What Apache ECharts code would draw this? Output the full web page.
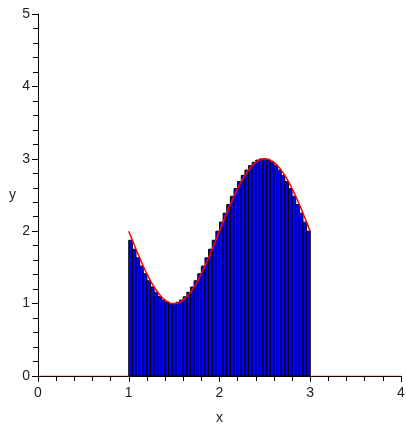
<!DOCTYPE html>
<html>
<head>
<meta charset="utf-8">
<script src="https://cdn.jsdelivr.net/npm/echarts@6/dist/echarts.min.js"></script>
<style>
html, body { margin: 0; padding: 0; background: #fff; }
#main { width: 406px; height: 432px; }
</style>
</head>
<body>
<div id="main"></div>
<script>
// right-endpoint boxes on [1, 3], 50 of them
const boxStart = 1
const boxEnd = 3
const boxHeights = [1.875, 1.751, 1.632, 1.518, 1.412, 1.315, 1.229, 1.156, 1.095, 1.049,
  1.018, 1.002, 1.002, 1.018, 1.049, 1.095, 1.156, 1.229, 1.315, 1.412,
  1.518, 1.632, 1.751, 1.875, 2.000, 2.125, 2.249, 2.368, 2.482, 2.588,
  2.685, 2.771, 2.844, 2.905, 2.951, 2.982, 2.998, 2.998, 2.982, 2.951,
  2.905, 2.844, 2.771, 2.685, 2.588, 2.482, 2.368, 2.249, 2.125, 2.000]
// curve sampled at the box edges
const curveY = [2.000, 1.875, 1.751, 1.632, 1.518, 1.412, 1.315, 1.229, 1.156, 1.095, 1.049,
  1.018, 1.002, 1.002, 1.018, 1.049, 1.095, 1.156, 1.229, 1.315, 1.412,
  1.518, 1.632, 1.751, 1.875, 2.000, 2.125, 2.249, 2.368, 2.482, 2.588,
  2.685, 2.771, 2.844, 2.905, 2.951, 2.982, 2.998, 2.998, 2.982, 2.951,
  2.905, 2.844, 2.771, 2.685, 2.588, 2.482, 2.368, 2.249, 2.125, 2.000]
const zeroLeft = [[0, 0], [1, 0]]
const zeroRight = [[3, 0], [4, 0]]

const step = (boxEnd - boxStart) / boxHeights.length
const boxData = boxHeights.map((h, i) => [boxStart + i * step, boxStart + (i + 1) * step, h])
const curveData = curveY.map((y, i) => [boxStart + i * step, y])

let myChart = echarts.init(document.getElementById('main'))
myChart.setOption({
  animation: false,
  grid: { left: 38, right: 5, top: 14, bottom: 56, outerBoundsMode: 'none' },
  xAxis: {
    type: 'value', min: 0, max: 4, interval: 1,
    name: 'x', nameLocation: 'middle', nameGap: 35,
    nameTextStyle: { color: '#222', fontSize: 14, fontFamily: 'Liberation Sans' },
    axisLine: { lineStyle: { color: '#000', width: 1 } },
    axisTick: { length: 6, lineStyle: { color: '#000' } },
    minorTick: { show: true, splitNumber: 5, length: 5, lineStyle: { color: '#000' } },
    axisLabel: { color: '#222', fontSize: 14, fontFamily: 'Liberation Sans', margin: 10 },
    splitLine: { show: false }
  },
  yAxis: {
    type: 'value', min: 0, max: 5, interval: 1,
    name: 'y', nameLocation: 'middle', nameGap: 22, nameRotate: 0,
    nameTextStyle: { color: '#222', fontSize: 14, fontFamily: 'Liberation Sans' },
    axisLine: { show: true, lineStyle: { color: '#000', width: 1 } },
    axisTick: { show: true, length: 6, lineStyle: { color: '#000' } },
    minorTick: { show: true, splitNumber: 5, length: 5, lineStyle: { color: '#000' } },
    axisLabel: { color: '#222', fontSize: 14, fontFamily: 'Liberation Sans', margin: 8 },
    splitLine: { show: false }
  },
  series: [
    {
      type: 'custom',
      data: boxData,
      encode: { x: [0, 1], y: 2 },
      renderItem: function (params, api) {
        let p0 = api.coord([api.value(0), api.value(2)])
        let p1 = api.coord([api.value(1), 0])
        return {
          type: 'rect',
          shape: { x: p0[0], y: p0[1], width: p1[0] - p0[0], height: p1[1] - p0[1] },
          style: { fill: '#0000ff', stroke: '#000', lineWidth: 1 }
        }
      },
      z: 2
    },
    {
      type: 'line', data: curveData, smooth: true, symbol: 'none',
      lineStyle: { color: '#ff0000', width: 1.5 }, z: 3
    },
    {
      type: 'line', data: zeroLeft, symbol: 'none',
      lineStyle: { color: '#ff0000', width: 1, opacity: 0.5 }, z: 3
    },
    {
      type: 'line', data: zeroRight, symbol: 'none',
      lineStyle: { color: '#ff0000', width: 1, opacity: 0.5 }, z: 3
    }
  ]
})
</script>
</body>
</html>
